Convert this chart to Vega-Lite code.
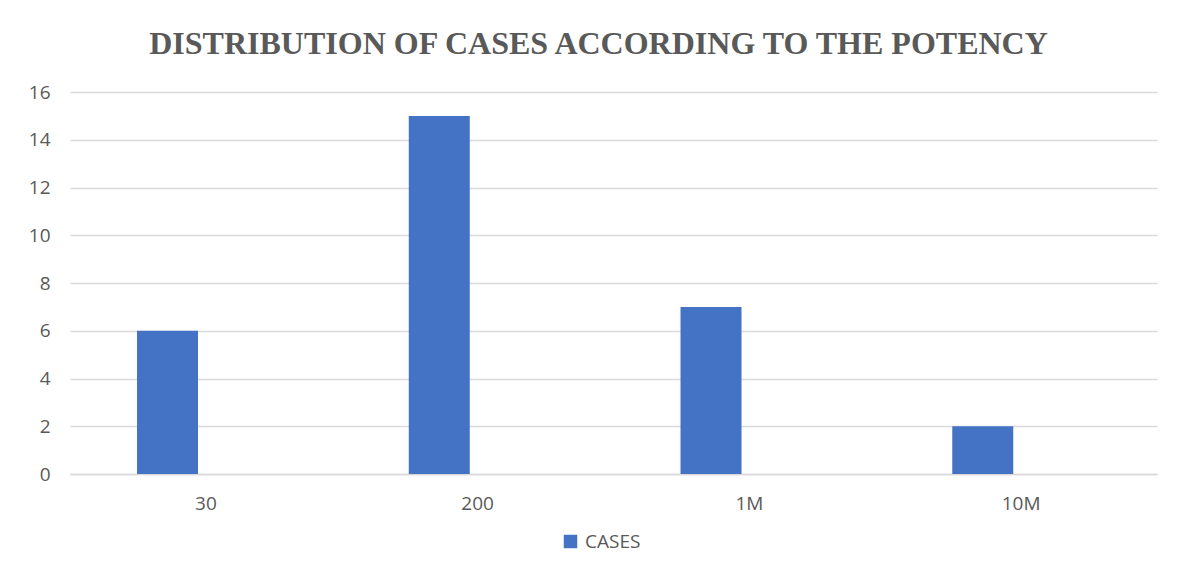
{
  "$schema": "https://vega.github.io/schema/vega-lite/v6.json",
  "width": 1087,
  "height": 382,
  "padding": {"left": 20, "top": 28, "right": 30, "bottom": 10},
  "background": "white",
  "title": {
    "text": "DISTRIBUTION OF CASES ACCORDING TO THE POTENCY",
    "font": "Liberation Serif",
    "fontSize": 32,
    "fontWeight": "bold",
    "color": "#595959",
    "anchor": "middle",
    "dx": -15,
    "offset": 22
  },
  "data": {
    "values": [
      {"potency": "30", "series": "CASES", "cases": 6},
      {"potency": "200", "series": "CASES", "cases": 15},
      {"potency": "1M", "series": "CASES", "cases": 7},
      {"potency": "10M", "series": "CASES", "cases": 2}
    ]
  },
  "mark": {"type": "bar", "color": "#4472C4"},
  "encoding": {
    "x": {
      "field": "potency",
      "type": "nominal",
      "sort": ["30", "200", "1M", "10M"],
      "scale": {"paddingInner": 0, "paddingOuter": 0},
      "axis": {
        "title": null,
        "labelAngle": 0,
        "labelFont": "Open Sans",
        "labelFontSize": 19,
        "labelColor": "#595959",
        "labelPadding": 20,
        "ticks": false,
        "domain": true,
        "domainColor": "#D9D9D9",
        "domainWidth": 1.5,
        "grid": false
      }
    },
    "xOffset": {
      "field": "series",
      "type": "nominal",
      "scale": {"domain": ["CASES", "blank"], "paddingInner": 0.1317, "paddingOuter": 1, "align": 0.477}
    },
    "y": {
      "field": "cases",
      "type": "quantitative",
      "scale": {"domain": [0, 16], "nice": false},
      "axis": {
        "title": null,
        "values": [0, 2, 4, 6, 8, 10, 12, 14, 16],
        "labelFont": "Open Sans",
        "labelFontSize": 19,
        "labelColor": "#595959",
        "labelPadding": 20,
        "ticks": false,
        "domain": false,
        "grid": true,
        "gridColor": "#D9D9D9",
        "gridWidth": 1.5,
        "minExtent": 50,
        "maxExtent": 50
      }
    },
    "color": {
      "field": "series",
      "type": "nominal",
      "scale": {"domain": ["CASES"], "range": ["#4472C4"]},
      "legend": {
        "title": null,
        "orient": "none",
        "legendX": 491,
        "legendY": 440,
        "symbolType": "square",
        "symbolSize": 182,
        "symbolStrokeWidth": 0,
        "labelFont": "Open Sans",
        "labelFontSize": 19,
        "labelColor": "#595959",
        "labelOffset": 5
      }
    }
  },
  "config": {"view": {"stroke": null}}
}
